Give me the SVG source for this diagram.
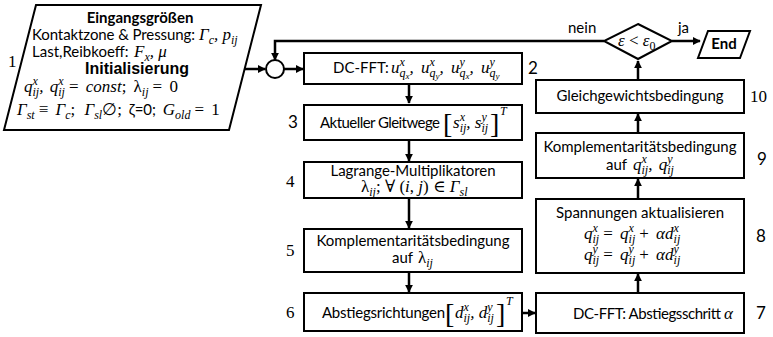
<svg xmlns="http://www.w3.org/2000/svg" width="773" height="337" viewBox="0 0 773 337">
<style>
.box{fill:#fff;stroke:#000;stroke-width:2}
.t{font-family:Lato,"Liberation Sans",sans-serif;font-size:15px;font-style:normal;fill:#000}
.b{font-weight:bold}
.m{font-family:"Liberation Serif","DejaVu Serif",serif;font-style:italic;font-size:17px;fill:#000}
.up{font-style:normal}
.s{font-size:12px}
.ss{font-size:9px}
.br{font-family:"Liberation Serif",serif;font-size:28px;font-weight:100;fill:#000}
.ns{font-family:"Liberation Serif",serif;font-size:17px;fill:#000}
.nn{font-family:Lato,"Liberation Sans",sans-serif;font-size:17px;fill:#000}
.c{stroke:#000;stroke-width:2.5;fill:none;marker-end:url(#ah)}
</style>
<defs>
<marker id="ah" viewBox="0 0 10 10" refX="9" refY="5" markerWidth="3.2" markerHeight="3.2" orient="auto" markerUnits="strokeWidth">
<path d="M0,0 L10,5 L0,10 z" fill="#000"/>
</marker>
</defs>
<rect width="773" height="337" fill="#fff"/>

<g id="connectors">
<path class="c" d="M244,69 H265"/>
<path class="c" d="M284,69 H303"/>
<path class="c" d="M604,41 H275 V60"/>
<path class="c" d="M409,84 V103"/>
<path class="c" d="M409,140 V161"/>
<path class="c" d="M409,198 V228"/>
<path class="c" d="M409,272 V292"/>
<path class="c" d="M522,313 H535"/>
<path class="c" d="M638,293 V274"/>
<path class="c" d="M638,199 V179"/>
<path class="c" d="M638,133 V114"/>
<path class="c" d="M638,80 V61"/>
<path class="c" d="M672,41 H700"/>
</g>

<g id="n1">
<polygon class="box" points="36,5 261,5 229,130 4,130"/>
<text class="t b" x="140" y="23" text-anchor="middle">Eingangsgrößen</text>
<text class="t" x="32" y="40" textLength="163">Kontaktzone &amp; Pressung: </text>
<text class="m" x="199" y="40">Γ<tspan class="s" dy="4">c</tspan><tspan dy="-4">, p</tspan><tspan class="s" dy="4">ij</tspan></text>
<text class="t" x="32" y="57">Last,Reibkoeff: </text>
<text class="m" x="134" y="57">F<tspan class="s" dy="4">x</tspan><tspan dy="-4">, μ</tspan></text>
<text x="137" y="74" text-anchor="middle" font-family="'Liberation Sans',Arial,sans-serif" font-size="16" font-weight="bold">Initialisierung</text>
<text class="m" x="24" y="92">q<tspan class="s" dy="-7">x</tspan><tspan class="s" dx="-5.3" dy="11">ij</tspan><tspan dy="-4">, </tspan><tspan dx="2">q</tspan><tspan class="s" dy="-7">x</tspan><tspan class="s" dx="-5.3" dy="11">ij</tspan><tspan class="up" dy="-4" dx="4">= </tspan><tspan dx="3">const</tspan><tspan class="up">; </tspan><tspan class="up" dx="3">λ</tspan><tspan class="s" dy="4">ij</tspan><tspan class="up" dy="-4" dx="4">= </tspan><tspan class="up" dx="3">0</tspan></text>
<text class="m" x="17" y="115">Γ<tspan class="s" dy="4">st</tspan><tspan class="up" dy="-4" dx="4">≡ </tspan><tspan dx="3">Γ</tspan><tspan class="s" dy="4">c</tspan><tspan class="up" dy="-4">; </tspan><tspan dx="5">Γ</tspan><tspan class="s" dy="4">sl</tspan><tspan class="up" dy="-4">∅;</tspan><tspan class="t" dx="3"> ζ=0; </tspan><tspan dx="3">G</tspan><tspan class="s" dy="4">old</tspan><tspan class="up" dy="-4" dx="4">= </tspan><tspan class="up" dx="3">1</tspan></text>
<text class="ns" x="8" y="67">1</text>
</g>

<g id="merge">
<circle cx="275" cy="69" r="9" fill="#fff" stroke="#000" stroke-width="2"/>
</g>

<g id="n2">
<rect class="box" x="304" y="53" width="218" height="31"/>
<text class="t" x="333" y="73">DC-FFT: </text>
<text class="m" x="391" y="73">u<tspan class="s" dy="-7">x</tspan><tspan class="s" dx="-5.3" dy="11">q</tspan><tspan class="ss" dy="2">x</tspan><tspan dy="-6">, </tspan><tspan dx="3">u</tspan><tspan class="s" dy="-7">x</tspan><tspan class="s" dx="-5.3" dy="11">q</tspan><tspan class="ss" dy="2">y</tspan><tspan dy="-6">, </tspan><tspan dx="3">u</tspan><tspan class="s" dy="-7">y</tspan><tspan class="s" dx="-5.3" dy="11">q</tspan><tspan class="ss" dy="2">x</tspan><tspan dy="-6">, </tspan><tspan dx="3">u</tspan><tspan class="s" dy="-7">y</tspan><tspan class="s" dx="-5.3" dy="11">q</tspan><tspan class="ss" dy="2">y</tspan></text>
<text class="nn" x="528" y="74">2</text>
</g>

<g id="n3">
<rect class="box" x="304" y="105" width="218" height="35"/>
<text class="t" x="320" y="128" textLength="120">Aktueller Gleitwege</text>
<text class="br" x="443" y="133">[</text>
<text class="m" x="453" y="128">s<tspan class="s" dy="-7">x</tspan><tspan class="s" dx="-5.3" dy="11">ij</tspan><tspan dy="-4">, s</tspan><tspan class="s" dy="-7">y</tspan><tspan class="s" dx="-5.3" dy="11">ij</tspan></text>
<text class="br" x="490" y="133">]</text>
<text class="m s" x="500" y="115">T</text>
<text class="nn" x="288" y="128">3</text>
</g>

<g id="n4">
<rect class="box" x="304" y="162" width="218" height="36"/>
<text class="t" x="413" y="176" text-anchor="middle" textLength="165">Lagrange-Multiplikatoren</text>
<text class="m" x="361" y="192"><tspan class="up">λ</tspan><tspan class="s" dy="4">ij</tspan><tspan class="up" dy="-4">; ∀ (</tspan>i<tspan class="up">, </tspan>j<tspan class="up">) ∈ </tspan>Γ<tspan class="s" dy="4">sl</tspan></text>
<text class="ns" x="286" y="187">4</text>
</g>

<g id="n5">
<rect class="box" x="304" y="229" width="218" height="43"/>
<text class="t" x="413" y="246" text-anchor="middle" textLength="193">Komplementaritätsbedingung</text>
<text class="t" x="392" y="263">auf </text>
<text class="m" x="418" y="263"><tspan class="up">λ</tspan><tspan class="s" dy="4">ij</tspan></text>
<text class="ns" x="286" y="256">5</text>
</g>

<g id="n6">
<rect class="box" x="304" y="293" width="218" height="38"/>
<text class="t" x="322" y="318" textLength="123">Abstiegsrichtungen</text>
<text class="br" x="445" y="323">[</text>
<text class="m" x="455" y="318">d<tspan class="s" dy="-7">x</tspan><tspan class="s" dx="-5.3" dy="11">ij</tspan><tspan dy="-4">, d</tspan><tspan class="s" dy="-7">y</tspan><tspan class="s" dx="-5.3" dy="11">ij</tspan></text>
<text class="br" x="496" y="323">]</text>
<text class="m s" x="506" y="305">T</text>
<text class="ns" x="286" y="318">6</text>
</g>

<g id="n7">
<rect class="box" x="536" y="293" width="208" height="40"/>
<text class="t" x="573" y="319" textLength="148">DC-FFT: Abstiegsschritt </text>
<text class="m" x="724" y="319">α</text>
<text class="nn" x="756" y="319">7</text>
</g>

<g id="n8">
<rect class="box" x="536" y="199" width="208" height="74"/>
<text class="t" x="640" y="218" text-anchor="middle" textLength="168">Spannungen aktualisieren</text>
<text class="m" x="584" y="239">q<tspan class="s" dy="-7">x</tspan><tspan class="s" dx="-5.3" dy="11">ij</tspan><tspan class="up" dy="-4" dx="4">= </tspan><tspan dx="3">q</tspan><tspan class="s" dy="-7">x</tspan><tspan class="s" dx="-5.3" dy="11">ij</tspan><tspan class="up" dy="-4" dx="4">+ </tspan><tspan dx="3">αd</tspan><tspan class="s" dy="-7">x</tspan><tspan class="s" dx="-5.3" dy="11">ij</tspan></text>
<text class="m" x="584" y="260">q<tspan class="s" dy="-7">y</tspan><tspan class="s" dx="-5.3" dy="11">ij</tspan><tspan class="up" dy="-4" dx="4">= </tspan><tspan dx="3">q</tspan><tspan class="s" dy="-7">y</tspan><tspan class="s" dx="-5.3" dy="11">ij</tspan><tspan class="up" dy="-4" dx="4">+ </tspan><tspan dx="3">αd</tspan><tspan class="s" dy="-7">y</tspan><tspan class="s" dx="-5.3" dy="11">ij</tspan></text>
<text class="nn" x="756" y="242">8</text>
</g>

<g id="n9">
<rect class="box" x="536" y="133" width="208" height="45"/>
<text class="t" x="640" y="152" text-anchor="middle" textLength="193">Komplementaritätsbedingung</text>
<text class="t" x="606" y="170">auf </text>
<text class="m" x="633" y="170">q<tspan class="s" dy="-7">x</tspan><tspan class="s" dx="-5.3" dy="11">ij</tspan><tspan dy="-4">, </tspan><tspan dx="2">q</tspan><tspan class="s" dy="-7">y</tspan><tspan class="s" dx="-5.3" dy="11">ij</tspan></text>
<text class="nn" x="757" y="165">9</text>
</g>

<g id="n10">
<rect class="box" x="536" y="80" width="208" height="33"/>
<text class="t" x="640" y="101" text-anchor="middle" textLength="167">Gleichgewichtsbedingung</text>
<text class="ns" x="750" y="102">10</text>
</g>

<g id="decision">
<polygon class="box" points="638,24 672,41 638,59 604,41"/>
<text class="m" x="618" y="46">ε<tspan class="up"> &lt; </tspan>ε<tspan class="s up" dy="4">0</tspan></text>
<text class="t" x="568" y="33">nein</text>
<text class="t" x="678" y="33">ja</text>
</g>

<g id="end">
<polygon class="box" points="708,31 750,31 740,58 698,58"/>
<text class="t b" x="724" y="49" text-anchor="middle" font-size="12">End</text>
</g>
</svg>
